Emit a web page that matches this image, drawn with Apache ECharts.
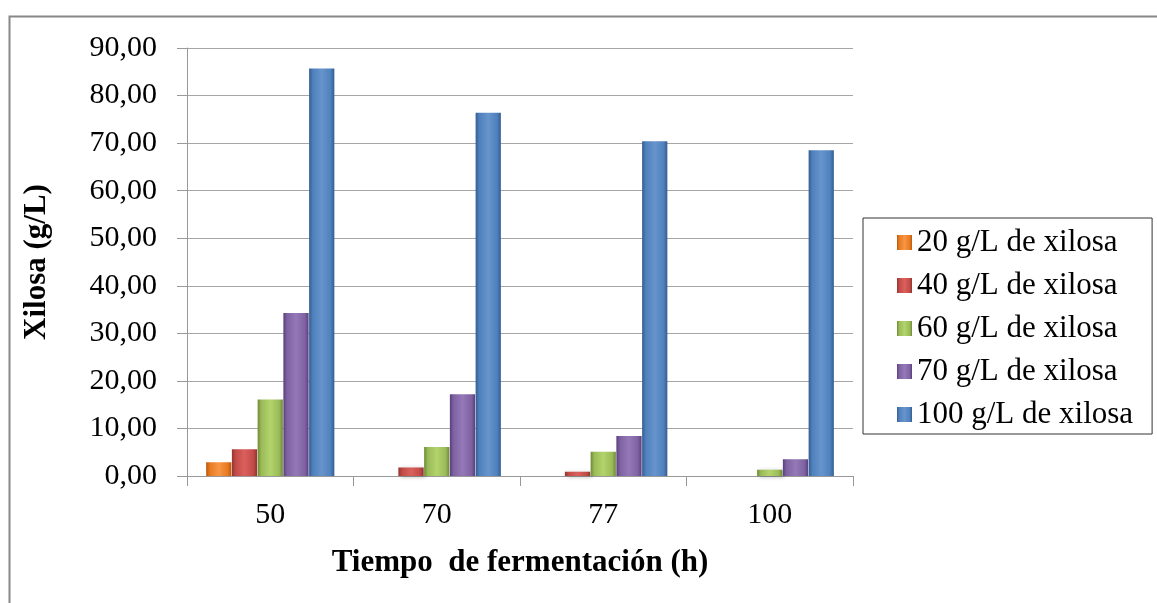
<!DOCTYPE html>
<html><head><meta charset="utf-8">
<script src="https://cdn.jsdelivr.net/npm/echarts@6/dist/echarts.min.js"></script>
<style>html,body{margin:0;padding:0;background:#fff}#c{width:1157px;height:603px}</style>
</head><body><div id="c"></div>
<script>
const categories = ['50', '70', '77', '100'];
const seriesNames = ['20 g/L de xilosa', '40 g/L de xilosa', '60 g/L de xilosa', '70 g/L de xilosa', '100 g/L de xilosa'];
const s20 = [2.9, 0, 0, 0];
const s40 = [5.6, 1.8, 0.9, 0];
const s60 = [16.1, 6.1, 5.1, 1.3];
const s70 = [34.3, 17.2, 8.4, 3.5];
const s100 = [85.7, 76.4, 70.4, 68.5];
const yTicks = {min: 0, max: 90, interval: 10};

const values = [s20, s40, s60, s70, s100];
const colors = [
  ['#b55a10', '#e97a1f', '#f79646'],
  ['#8e3532', '#c44a47', '#d9605c'],
  ['#6f8a36', '#9bbb59', '#b3d36c'],
  ['#593f7c', '#7f62a2', '#9478b8'],
  ['#345d92', '#4f81bd', '#6794cc']
];
function grad(c) {
  return new echarts.graphic.LinearGradient(0, 0, 1, 0, [
    {offset: 0, color: c[0]}, {offset: 0.15, color: c[1]},
    {offset: 0.5, color: c[2]}, {offset: 0.85, color: c[1]}, {offset: 1, color: c[0]}
  ]);
}
const font = '"Liberation Serif", "Times New Roman", serif';
const chart = echarts.init(document.getElementById('c'));
chart.setOption({
  animation: false,
  backgroundColor: '#fff',
  graphic: [{
    type: 'polyline', silent: true,
    shape: {points: [[9.5, 603], [9.5, 16.5], [1157, 16.5]]},
    style: {stroke: '#888', lineWidth: 2, fill: null}
  }],
  grid: {left: 187, right: 304, top: 48, bottom: 127},
  legend: {
    orient: 'vertical', left: 863, top: 218,
    padding: [9, 19, 4, 34],
    borderColor: '#333', borderWidth: 1,
    itemGap: 12, itemWidth: 15, itemHeight: 15,
    icon: 'rect',
    textStyle: {fontFamily: font, fontSize: 31, color: '#000'},
    data: seriesNames
  },
  xAxis: {
    type: 'category', data: categories,
    axisLine: {lineStyle: {color: '#999', width: 1}},
    axisTick: {show: true, length: 10, lineStyle: {color: '#999'}},
    axisLabel: {fontFamily: font, fontSize: 30, color: '#000', margin: 24},
    name: 'Tiempo  de fermentación (h)', nameLocation: 'middle', nameGap: 71,
    nameTextStyle: {fontFamily: font, fontSize: 31, fontWeight: 'bold', color: '#000'}
  },
  yAxis: {
    type: 'value', min: yTicks.min, max: yTicks.max, interval: yTicks.interval,
    axisLine: {show: true, lineStyle: {color: '#999'}},
    axisTick: {show: true, length: 10, lineStyle: {color: '#999'}},
    splitLine: {lineStyle: {color: '#a6a6a6', width: 1}},
    axisLabel: {fontFamily: font, fontSize: 30, color: '#000', margin: 30,
      formatter: v => v.toFixed(2).replace('.', ',')},
    name: 'Xilosa (g/L)', nameLocation: 'middle', nameGap: 135, nameRotate: 90,
    nameTextStyle: {fontFamily: font, fontSize: 31, fontWeight: 'bold', color: '#000'}
  },
  series: seriesNames.map((n, i) => ({
    name: n, type: 'bar', data: values[i],
    barGap: '2%', barCategoryGap: '23%',
    itemStyle: {color: grad(colors[i]), shadowColor: 'rgba(0,0,0,0.25)', shadowBlur: 4, shadowOffsetX: 2, shadowOffsetY: 1}
  }))
});
chart.setOption({series: seriesNames.map((n, i) => ({name: n, color: colors[i][1]}))});
</script></body></html>
